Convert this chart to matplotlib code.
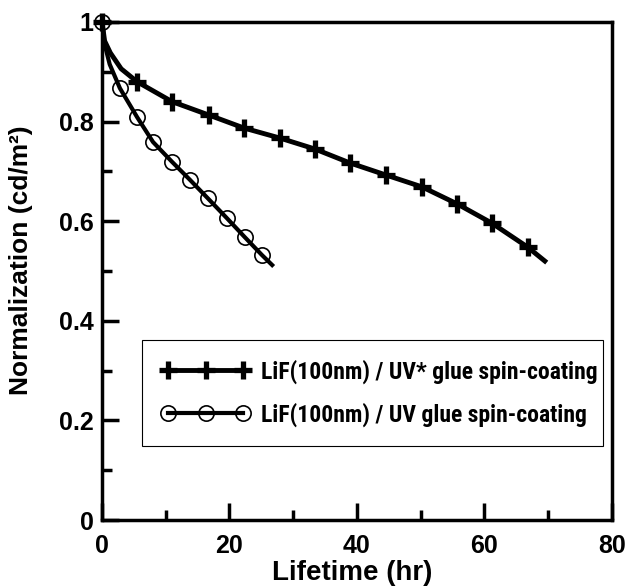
import matplotlib.pyplot as plt
from matplotlib import font_manager
from matplotlib.font_manager import FontProperties

# data
uv_star_x = [0, 0.4, 1.3, 3.0, 5.5, 11.0, 16.8, 22.3, 27.9, 33.4, 38.9, 44.5, 50.2, 55.7, 61.2, 66.8, 69.5]
uv_star_y = [1.0, 0.962, 0.938, 0.906, 0.88, 0.84, 0.813, 0.787, 0.767, 0.745, 0.717, 0.693, 0.669, 0.635, 0.596, 0.548, 0.52]
uv_star_marks = [0, 4, 5, 6, 7, 8, 9, 10, 11, 12, 13, 14, 15]

uv_x = [0, 0.4, 1.2, 2.8, 5.5, 8.0, 11.0, 13.8, 16.6, 19.6, 22.4, 25.1, 26.7]
uv_y = [1.0, 0.955, 0.915, 0.867, 0.809, 0.759, 0.719, 0.683, 0.646, 0.606, 0.568, 0.532, 0.512]
uv_marks = [0, 3, 4, 5, 6, 7, 8, 9, 10, 11]

label_star = 'LiF(100nm) / UV* glue spin-coating'
label_uv = 'LiF(100nm) / UV glue spin-coating'

# look for a condensed bold face for the legend text
leg_prop = None
names = {f.name for f in font_manager.fontManager.ttflist}
for fam in ['Liberation Sans Narrow', 'Roboto Condensed', 'Open Sans Condensed', 'Noto Sans Condensed']:
    if fam in names:
        leg_prop = FontProperties(family=fam, weight='bold', size=17)
        break
if leg_prop is None:
    for f in font_manager.fontManager.ttflist:
        if f.name in ('Noto Sans', 'Roboto', 'Open Sans') and f.stretch == 'condensed' and f.weight in (700, 'bold') and f.style == 'normal':
            leg_prop = FontProperties(fname=f.fname, size=17)
            break
if leg_prop is None:
    leg_prop = FontProperties(family='Liberation Sans', weight='bold', size=14.5)

plt.rcParams['font.family'] = ['Liberation Sans', 'DejaVu Sans']
plt.rcParams['font.weight'] = 'bold'

fig = plt.figure(figsize=(6.3, 5.88), dpi=100)
ax = fig.add_axes([0.162, 0.1156, 0.809, 0.847])

ax.plot(uv_star_x, uv_star_y, color='black', lw=3.5, marker='+', ms=13, mew=3.8,
        markevery=uv_star_marks, label=label_star, clip_on=False)
ax.plot(uv_x, uv_y, color='black', lw=3, marker='o', ms=11, mew=1.2, mfc='none',
        markevery=uv_marks, label=label_uv, clip_on=False)

ax.set_xlim(0, 80)
ax.set_ylim(0, 1)
ax.set_xticks([0, 20, 40, 60, 80])
ax.set_xticks([10, 30, 50, 70], minor=True)
ax.set_yticks([0, 0.2, 0.4, 0.6, 0.8, 1.0])
ax.set_yticklabels(['0', '0.2', '0.4', '0.6', '0.8', '1'])
ax.set_yticks([0.1, 0.3, 0.5, 0.7, 0.9], minor=True)

ax.tick_params(which='both', direction='in', width=2.5, labelsize=18)
ax.tick_params(axis='x', pad=10)
ax.tick_params(axis='y', pad=6)
ax.tick_params(which='major', length=12)
ax.tick_params(which='minor', length=7)
for lab in ax.get_xticklabels() + ax.get_yticklabels():
    lab.set_fontweight('bold')
for sp in ax.spines.values():
    sp.set_linewidth(2.5)

ax.set_xlabel('Lifetime (hr)', fontsize=20, fontweight='bold')
ax.set_ylabel('Normalization (cd/m²)', fontsize=19, fontweight='bold')
ax.xaxis.set_label_coords(0.49, -0.08)
ax.yaxis.set_label_coords(-0.135, 0.522)

leg = ax.legend(loc='lower left', bbox_to_anchor=(0.078, 0.149, 0.904, 0.22), mode='expand',
                numpoints=3, handlelength=3.8, handletextpad=0.45, fancybox=False,
                edgecolor='black', framealpha=1, borderpad=0.8, labelspacing=0.8,
                borderaxespad=0, prop=leg_prop)
leg.get_frame().set_linewidth(0.8)

fig.savefig('out.png', dpi=100)
